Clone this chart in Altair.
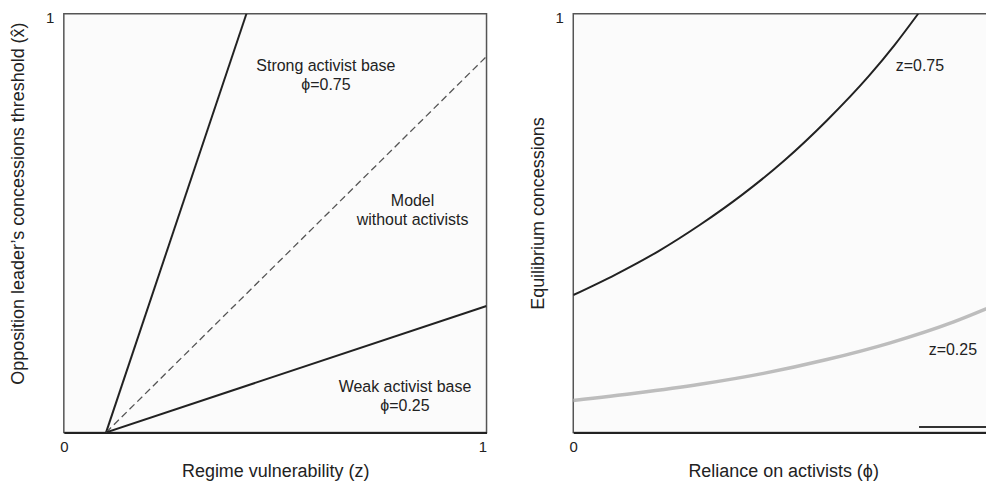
import altair as alt
import pandas as pd

FONT = "Liberation Sans"
INK = "#222222"

# ---------------- Left panel data: threshold vs regime vulnerability ----------------
z_strong = [0.10, 0.432]
x_strong = [0.0, 1.0]
z_model = [0.10, 1.0]
x_model = [0.0, 0.898]
z_weak = [0.10, 1.0]
x_weak = [0.0, 0.302]

left_labels = ["Strong activist base\nϕ=0.75", "Model\nwithout activists", "Weak activist base\nϕ=0.25"]
left_label_z = [0.62, 0.825, 0.807]
left_label_x = [0.875, 0.552, 0.108]

# ---------------- Right panel data: equilibrium concessions vs reliance ----------------
phi_z75 = [0.0, 0.10, 0.20, 0.30, 0.40, 0.50, 0.60, 0.70, 0.76, 0.816]
conc_z75 = [0.328, 0.377, 0.432, 0.496, 0.568, 0.650, 0.745, 0.852, 0.925, 1.0]
phi_z25 = [0.0, 0.15, 0.30, 0.45, 0.60, 0.75, 0.90, 1.0]
conc_z25 = [0.076, 0.094, 0.115, 0.141, 0.174, 0.214, 0.264, 0.305]
phi_floor = [0.818, 1.0]
conc_floor = [0.013, 0.013]

right_labels = ["z=0.75", "z=0.25"]
right_label_phi = [0.82, 0.898]
right_label_y = [0.875, 0.198]

W, H = 424, 420
W_R = 421  # right panel is cut by the picture's edge
R_MAX = W_R / W

def x_axis(title):
    return alt.Axis(
        values=[0, 1], format="d", title=title, grid=False, ticks=False,
        domain=True, domainColor=INK, domainWidth=2,
        labelFontSize=15, labelPadding=7, labelColor=INK,
        labelAlign={"condition": {"test": "datum.value == 1", "value": "right"}, "value": "center"},
        titleFontSize=18, titlePadding=8, titleColor=INK, titleFontWeight="normal",
    )

def y_axis(title, tp, ty):
    return alt.Axis(
        values=[1], format="d", title=title, grid=False, ticks=False, domain=False,
        labelFontSize=15, labelPadding=10, labelColor=INK, labelOffset=3.5,
        titleFontSize=18, titlePadding=tp, titleColor=INK, titleFontWeight="normal",
        titleY=ty,
    )

def line_df(xs, ys):
    return pd.DataFrame({"x": xs, "y": ys})

lscale = alt.Scale(domain=[0, 1], nice=False, zero=False)
yscale = alt.Scale(domain=[0, 1], nice=False, zero=False)
lx = alt.X("x:Q", scale=lscale, axis=x_axis("Regime vulnerability (z)"))
ly = alt.Y("y:Q", scale=yscale, axis=y_axis("Opposition leader\u2019s concessions threshold (x\u0302)", 18, 190))

strong = alt.Chart(line_df(z_strong, x_strong)).mark_line(color=INK, strokeWidth=2, clip=True).encode(x=lx, y=ly)
model = alt.Chart(line_df(z_model, x_model)).mark_line(color="#555555", strokeWidth=1.3, strokeDash=[7, 4], clip=True).encode(x="x:Q", y="y:Q")
weak = alt.Chart(line_df(z_weak, x_weak)).mark_line(color=INK, strokeWidth=2, clip=True).encode(x="x:Q", y="y:Q")
ltext = alt.Chart(pd.DataFrame({"x": left_label_z, "y": left_label_x, "t": left_labels})).mark_text(
    font=FONT, fontSize=16, lineBreak="\n", lineHeight=19, color=INK, align="center", baseline="middle"
).encode(x="x:Q", y="y:Q", text="t:N")

left = alt.layer(strong, model, weak, ltext).properties(width=W, height=H)

rscale = alt.Scale(domain=[0, R_MAX], nice=False, zero=False)
rx = alt.X("x:Q", scale=rscale, axis=x_axis("Reliance on activists (ϕ)"))
ry = alt.Y("y:Q", scale=alt.Scale(domain=[0, 1], nice=False, zero=False), axis=y_axis("Equilibrium concessions", 8, 200))

hi = alt.Chart(line_df(phi_z75, conc_z75)).mark_line(color=INK, strokeWidth=2, interpolate="monotone", clip=True).encode(x=rx, y=ry)
lo = alt.Chart(line_df(phi_z25, conc_z25)).mark_line(color="#bdbdbd", strokeWidth=3.5, interpolate="monotone", clip=True).encode(x="x:Q", y="y:Q")
floor = alt.Chart(line_df(phi_floor, conc_floor)).mark_line(color="#333333", strokeWidth=2, clip=True).encode(x="x:Q", y="y:Q")
rtext = alt.Chart(pd.DataFrame({"x": right_label_phi, "y": right_label_y, "t": right_labels})).mark_text(
    font=FONT, fontSize=16, color=INK, align="center", baseline="middle"
).encode(x="x:Q", y="y:Q", text="t:N")

right = alt.layer(hi, lo, floor, rtext).properties(width=W_R, height=H)

chart = alt.hconcat(left, right, spacing=40).properties(
    padding={"left": 0, "top": 0, "right": -8, "bottom": 0}
).configure_view(
    fill="#fbfbfb", stroke="#555555", strokeWidth=1.5
).configure_axis(labelFont=FONT, titleFont=FONT).configure_text(font=FONT)

chart.save("out.html", embed_options={"renderer": "svg", "actions": False})
